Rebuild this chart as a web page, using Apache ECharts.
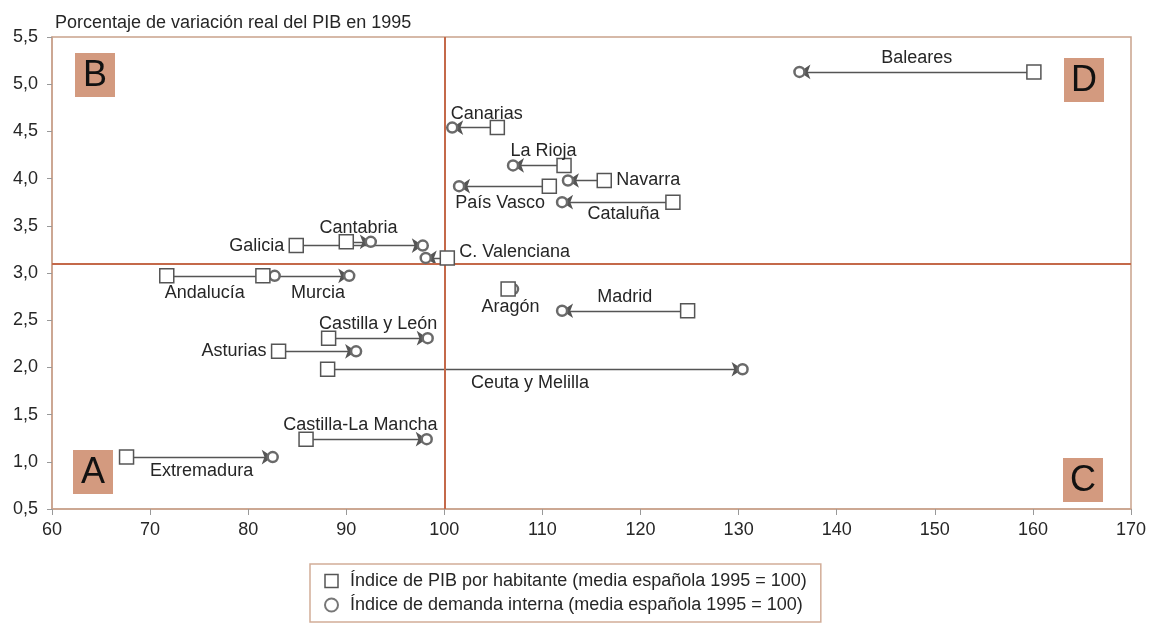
<!DOCTYPE html>
<html>
<head>
<meta charset="utf-8">
<script src="https://cdn.jsdelivr.net/npm/echarts@6/dist/echarts.min.js"></script>
<style>
  html, body { margin: 0; padding: 0; background: #fff; }
  #chart { width: 1153px; height: 625px; }
</style>
</head>
<body>
<div id="chart"></div>
<script>
// Comunidades autónomas: PIB por habitante vs demanda interna, variación real PIB 1995
const regiones = ['Baleares', 'Canarias', 'La Rioja', 'Navarra', 'País Vasco', 'Cataluña',
  'Cantabria', 'Galicia', 'C. Valenciana', 'Andalucía', 'Murcia', 'Aragón', 'Madrid',
  'Castilla y León', 'Asturias', 'Ceuta y Melilla', 'Castilla-La Mancha', 'Extremadura'];
const pibHabitante = [160.1, 105.4, 112.2, 116.3, 110.7, 123.3, 90.0, 84.9, 100.3,
  71.7, 81.5, 106.5, 124.8, 88.2, 83.1, 88.1, 85.9, 67.6];
const demandaInterna = [136.2, 100.8, 107.0, 112.6, 101.5, 112.0, 92.5, 97.8, 98.1,
  82.7, 90.3, 107.0, 112.0, 98.3, 91.0, 130.4, 98.2, 82.5];
const variacionPIB = [5.13, 4.54, 4.14, 3.98, 3.92, 3.75, 3.33, 3.29, 3.16,
  2.97, 2.97, 2.83, 2.60, 2.31, 2.17, 1.98, 1.24, 1.05];

const mediaEspanola = 100;
const umbralVariacion = 3.1;

const nombrePIB = 'Índice de PIB por habitante (media española 1995 = 100)';
const nombreDemanda = 'Índice de demanda interna (media española 1995 = 100)';

// dónde va cada etiqueta respecto a su flecha (solo estilo)
const posEtiqueta = ['top', 'top', 'top', 'right', 'bottom', 'bottom', 'top', 'left', 'right',
  'bottom', 'bottom', 'bottom', 'top', 'top', 'left', 'bottom', 'top', 'bottom'];
const despEtiqueta = [[0, 0], [12, 0], [5, 0], [0, 0], [-4, 3], [6, -2], [0, 0], [0, 0], [0, -6],
  [-16, 3], [12, 3], [0, 4], [0, 0], [0, 0], [0, 0], [-5, 0], [-6, 0], [2, 0]];

const FONT = 'Liberation Sans, Arial, sans-serif';
const INK = '#262626';
const BROWN = '#c4694a';
const FRAME = '#c9a28c';

const coma = v => v.toFixed(1).replace('.', ',');

const flechas = regiones.map((r, i) => ({
  coords: [[pibHabitante[i], variacionPIB[i]], [demandaInterna[i], variacionPIB[i]]]
}));

const anclas = regiones.map((r, i) => {
  const a = pibHabitante[i], b = demandaInterna[i];
  const p = posEtiqueta[i];
  let x = (a + b) / 2;
  if (p === 'left') x = Math.min(a, b);
  if (p === 'right') x = Math.max(a, b);
  return {
    name: r,
    value: [x, variacionPIB[i]],
    label: {
      position: p,
      distance: (p === 'left' || p === 'right') ? 12 : 5,
      offset: despEtiqueta[i]
    }
  };
});

// recuadro de cuadrante (fondo + letra)
function cuadro(letra, x, y) {
  return [
    { type: 'rect', z: 100, shape: { x: x, y: y, width: 40, height: 44 },
      style: { fill: '#d39a7f' } },
    { type: 'text', z: 101, x: x + 20, y: y + 23,
      style: { text: letra, font: '36px ' + FONT, fill: '#111',
        align: 'center', verticalAlign: 'middle',
        textAlign: 'center', textVerticalAlign: 'middle' } }
  ];
}

const chart = echarts.init(document.getElementById('chart'));
chart.setOption({
  animation: false,
  backgroundColor: '#fff',
  textStyle: { fontFamily: FONT },
  title: {
    text: 'Porcentaje de variación real del PIB en 1995',
    left: 50, top: 9,
    textStyle: { fontSize: 18, fontWeight: 'normal', color: INK, fontFamily: FONT }
  },
  grid: { left: 52, right: 22, top: 37, bottom: 116, show: true,
    borderColor: FRAME, borderWidth: 1.5, backgroundColor: 'transparent' },
  xAxis: {
    type: 'value', min: 60, max: 170, interval: 10,
    axisLine: { show: true, lineStyle: { color: FRAME, width: 1.5 } },
    axisTick: { show: true, length: 6, lineStyle: { color: '#999' } },
    axisLabel: { color: INK, fontSize: 18, margin: 12 },
    splitLine: { show: false }
  },
  yAxis: {
    type: 'value', min: 0.5, max: 5.5, interval: 0.5,
    axisLine: { show: true, lineStyle: { color: FRAME, width: 1.5 } },
    axisTick: { show: true, length: 5, lineStyle: { color: '#999' } },
    axisLabel: { color: INK, fontSize: 18, margin: 14, formatter: coma },
    splitLine: { show: false }
  },
  legend: {
    orient: 'vertical', left: 310, top: 564,
    padding: [8, 14, 8, 14], itemGap: 6,
    borderColor: '#d2ad98', borderWidth: 1.5, borderRadius: 0,
    itemWidth: 13, itemHeight: 13,
    textStyle: { fontSize: 18, color: INK, fontFamily: FONT, padding: [0, 0, 0, 7] },
    data: [
      { name: nombrePIB, icon: 'rect',
        itemStyle: { color: '#fff', borderColor: '#555', borderWidth: 1.5 } },
      { name: nombreDemanda, icon: 'circle',
        itemStyle: { color: '#fff', borderColor: '#777', borderWidth: 2 } }
    ]
  },
  graphic: [].concat(
    cuadro('B', 75, 53),
    cuadro('D', 1064, 58),
    cuadro('A', 73, 450),
    cuadro('C', 1063, 458)
  ),
  series: [
    {
      name: 'flechas', type: 'lines', coordinateSystem: 'cartesian2d',
      data: flechas, symbol: ['none', 'arrow'], symbolSize: 11,
      lineStyle: { color: '#555', width: 1.3, opacity: 1, curveness: 0 },
      silent: true, z: 3,
      markLine: {
        silent: true, symbol: 'none', label: { show: false },
        lineStyle: { color: BROWN, width: 2, type: 'solid' },
        data: [{ xAxis: mediaEspanola }, { yAxis: umbralVariacion }]
      }
    },
    {
      name: nombreDemanda, type: 'scatter', symbol: 'circle', symbolSize: 10,
      data: regiones.map((r, i) => [demandaInterna[i], variacionPIB[i]]),
      itemStyle: { color: '#fff', borderColor: '#6a6a6a', borderWidth: 2.5, opacity: 1 },
      z: 5
    },
    {
      name: nombrePIB, type: 'scatter', symbol: 'rect', symbolSize: 14,
      data: regiones.map((r, i) => [pibHabitante[i], variacionPIB[i]]),
      itemStyle: { color: '#fff', borderColor: '#555', borderWidth: 1.5, opacity: 1 },
      z: 6
    },
    {
      name: 'etiquetas', type: 'scatter', symbolSize: 0, silent: true,
      data: anclas, z: 7,
      itemStyle: { opacity: 1 },
      label: { show: true, formatter: '{b}', fontSize: 18, color: INK, fontFamily: FONT, opacity: 1 }
    }
  ]
});
</script>
</body>
</html>
